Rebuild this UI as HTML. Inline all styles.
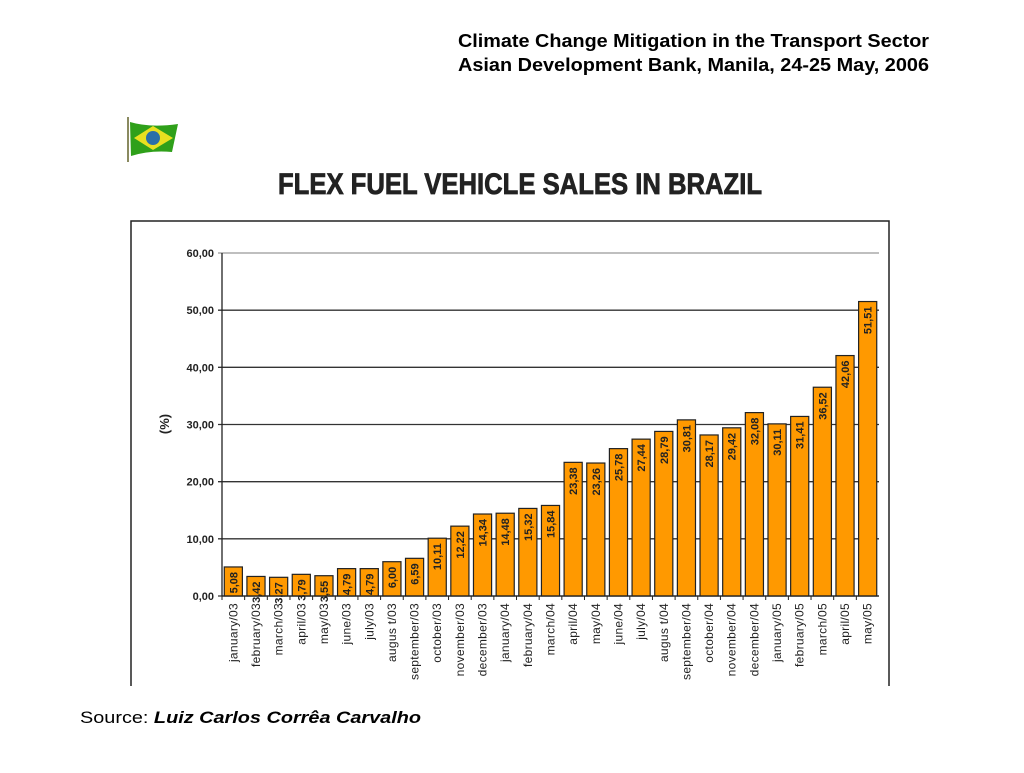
<!DOCTYPE html>
<html><head><meta charset="utf-8"><style>
body{margin:0;background:#fff;width:1024px;height:768px;overflow:hidden;font-family:"Liberation Sans",sans-serif}
</style></head><body>
<svg id="s" width="1024" height="768" xmlns="http://www.w3.org/2000/svg">
<text x="458" y="47" font-size="18" font-weight="bold" textLength="471" lengthAdjust="spacingAndGlyphs">Climate Change Mitigation in the Transport Sector</text>
<text x="458" y="71" font-size="18" font-weight="bold" textLength="471" lengthAdjust="spacingAndGlyphs">Asian Development Bank, Manila, 24-25 May, 2006</text>
<g>
<line x1="128" y1="117" x2="128" y2="162" stroke="#8a8a60" stroke-width="2"/>
<path d="M130 122 Q150 128 178 124 L172 152 Q150 150 131 156 Z" fill="#2fa01a"/>
<path d="M134 138 L153 126 L173 138 L153 150 Z" fill="#e8e020"/>
<circle cx="153" cy="138" r="7" fill="#2a6fa8"/>
</g>
<text x="278" y="194" font-size="30" font-weight="bold" fill="#222" stroke="#222" stroke-width="0.8" textLength="484" lengthAdjust="spacingAndGlyphs">FLEX FUEL VEHICLE SALES IN BRAZIL</text>
<svg x="0" y="0" width="1024" height="686" overflow="hidden">
<rect x="131" y="221" width="758" height="480" fill="#fff" stroke="#222" stroke-width="1.5"/>
<g id="chart"></g>
</svg>
<text x="80" y="723" font-size="17" textLength="341" lengthAdjust="spacingAndGlyphs">Source: <tspan font-weight="bold" font-style="italic">Luiz Carlos Corrêa Carvalho</tspan></text>
</svg>
<script>
const categories=["january/03","february/03","march/03","april/03","may/03","june/03","july/03","augus t/03","september/03","october/03","november/03","december/03","january/04","february/04","march/04","april/04","may/04","june/04","july/04","augus t/04","september/04","october/04","november/04","december/04","january/05","february/05","march/05","april/05","may/05"];
const values=[5.08,3.42,3.27,3.79,3.55,4.79,4.79,6.00,6.59,10.11,12.22,14.34,14.48,15.32,15.84,23.38,23.26,25.78,27.44,28.79,30.81,28.17,29.42,32.08,30.11,31.41,36.52,42.06,51.51];
const valueLabels=["5,08","3,42","3,27","3,79","3,55","4,79","4,79","6,00","6,59","10,11","12,22","14,34","14,48","15,32","15,84","23,38","23,26","25,78","27,44","28,79","30,81","28,17","29,42","32,08","30,11","31,41","36,52","42,06","51,51"];
const yTicks=[0,10,20,30,40,50,60];
const yTickLabels=["0,00","10,00","20,00","30,00","40,00","50,00","60,00"];
const NS="http://www.w3.org/2000/svg";
const g=document.getElementById('chart');
const L=222,R=879,T=253,B=596,YMAX=60;
const y=v=>B-(v/YMAX)*(B-T);
const slot=(R-L)/categories.length;
const x=i=>L+slot*i;
function mk(tag,attrs,text){const e=document.createElementNS(NS,tag);for(const k in attrs)e.setAttribute(k,attrs[k]);if(text!=null)e.textContent=text;g.appendChild(e);return e;}
yTicks.forEach((t,i)=>{
 const ln=mk('line',{x1:L-4,x2:R,y1:y(t),y2:y(t),stroke:t===60?'#999':'#333','stroke-width':1.3});
 
 
 const tx=mk('text',{x:L-8,y:y(t)+4,'text-anchor':'end','font-size':11,'font-weight':'bold',fill:'#222'},yTickLabels[i]);
 
 
});
const ax=mk('line',{x1:L,x2:L,y1:T,y2:B,stroke:'#222','stroke-width':1.3});


const yt=mk('text',{x:0,y:0,transform:'translate(169,424) rotate(-90)','text-anchor':'middle','font-size':13,'font-weight':'bold',fill:'#222'},'(%)');


categories.forEach((c,i)=>{
 const cx=x(i)+slot/2,bw=slot*0.8;
 const r=mk('rect',{x:cx-bw/2,y:y(values[i]),width:bw,height:B-y(values[i]),fill:'#ff9900',stroke:'#222','stroke-width':1.2});
 
 
 const vl=mk('text',{x:0,y:0,transform:`translate(${cx+4},${y(values[i])+5}) rotate(-90)`,'text-anchor':'end','font-size':11,'font-weight':'bold',fill:'#222'},valueLabels[i]);
 
 
 const tk=mk('line',{x1:x(i),x2:x(i),y1:B,y2:B+4,stroke:'#222'});
 
 
 const cl=mk('text',{x:0,y:0,transform:`translate(${cx+4},${B+7}) rotate(-90)`,'text-anchor':'end','font-size':12,'letter-spacing':'0.3',fill:'#222'},c);
 
 
});
const bl=mk('line',{x1:L,x2:R,y1:B,y2:B,stroke:'#222','stroke-width':1.3});


</script>
</body></html>
